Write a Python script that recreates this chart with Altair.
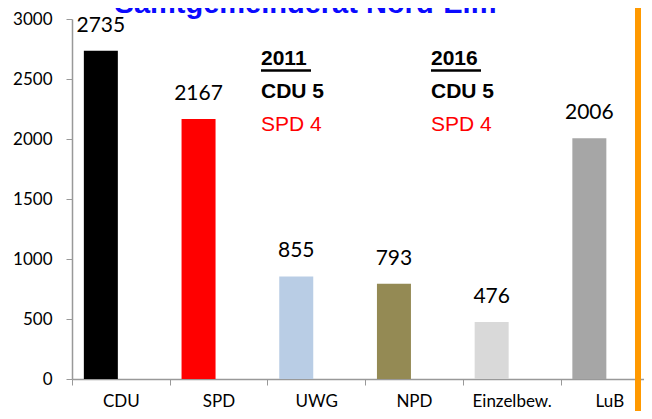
import altair as alt
import pandas as pd

parties = ["CDU", "SPD", "UWG", "NPD", "Einzelbew.", "LuB"]
votes = [2735, 2167, 855, 793, 476, 2006]
colors = ["#000000", "#FF0000", "#B9CDE5", "#948A54", "#D9D9D9", "#A6A6A6"]
y_ticks = [0, 500, 1000, 1500, 2000, 2500, 3000]

title_text = "Samtgemeinderat Nord-Elm"
years = ["2011", "2016"]
cdu_seats = ["CDU 5", "CDU 5"]
spd_seats = ["SPD 4", "SPD 4"]

df = pd.DataFrame({"party": parties, "votes": votes})

x_enc = alt.X(
    "party:N",
    sort=parties,
    scale=alt.Scale(range=[0, 586.2], paddingInner=0, paddingOuter=0),
    axis=alt.Axis(
        title=None, labelAngle=0, tickBand="extent", tickSize=6,
        domainColor="#999999", tickColor="#999999", domainWidth=1.5,
        labelFont="Lato", labelFontSize=17, labelColor="#000000",
        labelPadding=8, grid=False,
    ),
)
y_enc = alt.Y(
    "votes:Q",
    scale=alt.Scale(domain=[0, 3000], nice=False),
    axis=alt.Axis(
        title=None, values=y_ticks, format="d", grid=False, tickSize=6,
        domainColor="#999999", tickColor="#999999", domainWidth=1.5,
        labelFont="Lato", labelFontSize=17, labelColor="#000000",
        labelPadding=14,
    ),
)

bars = alt.Chart(df).mark_bar(size=34, xOffset=-20).encode(
    x=x_enc,
    y=y_enc,
    color=alt.Color("party:N", scale=alt.Scale(domain=parties, range=colors), legend=None),
)

labels = alt.Chart(df).mark_text(
    dx=-20, dy=-19, baseline="alphabetic", font="Lato", fontSize=21, color="#000000"
).encode(
    x=alt.X("party:N", sort=parties),
    y="votes:Q",
    text="votes:Q",
)

def txt(s, x, y, size=21, bold=True, color="#000000", align="left", font="Liberation Sans"):
    return alt.Chart(pd.DataFrame({"t": [s]})).mark_text(
        align=align, baseline="alphabetic", font=font, fontSize=size,
        fontWeight="bold" if bold else "normal", color=color,
    ).encode(text="t:N", x=alt.value(x), y=alt.value(y))

def uline(x1, x2, y):
    return alt.Chart(pd.DataFrame({"a": [0]})).mark_rule(color="#000000", strokeWidth=2.5).encode(
        x=alt.value(x1), x2=alt.value(x2), y=alt.value(y)
    )

layers = [bars, labels]
for i, xx in enumerate([189, 359]):
    layers.append(txt(years[i], xx, 46))
    layers.append(uline(xx, xx + 50, 51.5))
    layers.append(txt(cdu_seats[i], xx, 79))
    layers.append(txt(spd_seats[i], xx, 112, bold=False, color="#FF0000"))

layers.append(txt(title_text, 233.5, -6, size=29, color="#0A0AFF", align="center"))

orange = alt.Chart(pd.DataFrame({"a": [0]})).mark_rule(color="#FF9900", strokeWidth=6).encode(
    x=alt.value(566), y=alt.value(-20), y2=alt.value(400)
)
layers.append(orange)

chart = alt.layer(*layers).properties(
    width=572, height=360,
    autosize=alt.AutoSizeParams(type="none"),
    padding={"left": 64, "top": 11, "right": 0, "bottom": 32},
    background="white",
).configure_view(stroke=None)

chart.save("out.html", embed_options={"renderer": "svg", "actions": False})
